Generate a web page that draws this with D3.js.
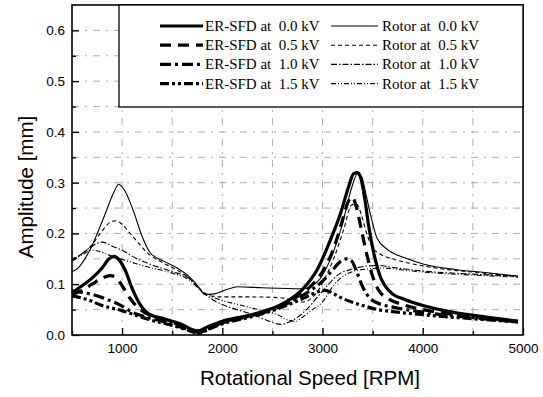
<!DOCTYPE html>
<html>
<head>
<meta charset="utf-8">
<script src="https://cdn.jsdelivr.net/npm/d3@7"></script>
<style>
  html, body { margin: 0; padding: 0; background: #fff; }
  svg { display: block; }
  .tick text { font: 13.5px "Liberation Sans", Arial, sans-serif; fill: #000; }
  .legendText { font: 15px "Liberation Serif", "Times New Roman", serif; fill: #000; white-space: pre; }
  .axisTitle { font: 20.5px "Liberation Sans", Arial, sans-serif; fill: #000; }
</style>
</head>
<body>
<script>
// Data: [rpm, amplitude mm]

const erSfd00 = [[500,0.083],[600,0.097],[700,0.112],[800,0.132],[870,0.15],[920,0.155],[970,0.148],[1030,0.128],[1100,0.092],[1180,0.06],[1280,0.04],[1420,0.032],[1580,0.022],[1750,0.008],[1850,0.016],[2000,0.027],[2250,0.038],[2480,0.051],[2650,0.067],[2800,0.09],[2950,0.13],[3080,0.188],[3180,0.24],[3260,0.292],[3310,0.318],[3350,0.32],[3380,0.31],[3420,0.27],[3460,0.215],[3510,0.162],[3570,0.118],[3680,0.084],[3820,0.07],[4020,0.057],[4320,0.044],[4650,0.035],[4950,0.027]];
const erSfd05 = [[500,0.08],[600,0.088],[700,0.1],[800,0.112],[880,0.117],[940,0.113],[1000,0.097],[1080,0.072],[1180,0.05],[1300,0.037],[1450,0.028],[1600,0.018],[1750,0.006],[1880,0.014],[2000,0.025],[2250,0.037],[2500,0.05],[2700,0.07],[2850,0.09],[3000,0.125],[3100,0.165],[3190,0.22],[3250,0.26],[3295,0.272],[3340,0.25],[3390,0.205],[3440,0.16],[3500,0.115],[3560,0.088],[3650,0.072],[3800,0.06],[4000,0.05],[4300,0.041],[4650,0.033],[4950,0.027]];
const erSfd10 = [[500,0.087],[600,0.084],[700,0.08],[850,0.07],[1000,0.057],[1100,0.045],[1250,0.035],[1400,0.027],[1550,0.018],[1650,0.011],[1760,0.004],[1850,0.012],[2000,0.024],[2250,0.036],[2500,0.05],[2700,0.067],[2850,0.084],[3000,0.106],[3100,0.128],[3180,0.145],[3240,0.15],[3290,0.146],[3340,0.125],[3400,0.095],[3470,0.073],[3550,0.063],[3700,0.055],[4000,0.045],[4500,0.034],[4950,0.026]];
const erSfd15 = [[500,0.077],[650,0.07],[800,0.058],[1000,0.048],[1150,0.038],[1350,0.026],[1500,0.019],[1650,0.01],[1760,0.003],[1850,0.01],[2000,0.022],[2250,0.034],[2500,0.048],[2700,0.063],[2850,0.076],[2950,0.085],[3030,0.088],[3100,0.082],[3200,0.072],[3320,0.063],[3420,0.057],[3550,0.05],[3700,0.046],[4000,0.04],[4500,0.032],[4950,0.026]];

const rotor00 = [[500,0.125],[550,0.13],[680,0.168],[820,0.233],[920,0.282],[965,0.297],[1030,0.283],[1120,0.24],[1200,0.194],[1280,0.162],[1420,0.145],[1550,0.132],[1680,0.113],[1770,0.093],[1820,0.08],[1920,0.081],[2050,0.09],[2150,0.095],[2400,0.093],[2800,0.091],[2950,0.105],[3080,0.15],[3200,0.22],[3290,0.29],[3350,0.318],[3390,0.312],[3430,0.28],[3475,0.24],[3545,0.19],[3650,0.168],[3820,0.152],[4020,0.139],[4320,0.129],[4620,0.123],[4950,0.116]];
const rotor05 = [[500,0.15],[600,0.16],[700,0.178],[800,0.205],[880,0.222],[940,0.225],[1000,0.218],[1080,0.2],[1160,0.182],[1250,0.162],[1400,0.143],[1550,0.128],[1680,0.11],[1780,0.09],[1870,0.078],[2000,0.075],[2300,0.075],[2600,0.073],[2800,0.065],[2940,0.083],[3020,0.11],[3110,0.15],[3210,0.207],[3290,0.256],[3340,0.258],[3390,0.235],[3440,0.2],[3500,0.172],[3570,0.16],[3700,0.15],[3900,0.14],[4200,0.13],[4600,0.122],[4950,0.115]];
const rotor10 = [[500,0.145],[600,0.16],[700,0.175],[800,0.183],[900,0.175],[1000,0.167],[1150,0.15],[1300,0.138],[1480,0.126],[1680,0.11],[1800,0.085],[1900,0.07],[2000,0.06],[2180,0.048],[2350,0.037],[2480,0.026],[2580,0.021],[2650,0.024],[2750,0.035],[2850,0.052],[2950,0.075],[3050,0.098],[3150,0.118],[3300,0.13],[3450,0.136],[3550,0.137],[3700,0.133],[4000,0.126],[4500,0.12],[4950,0.116]];
const rotor15 = [[500,0.148],[600,0.158],[700,0.167],[800,0.163],[900,0.155],[1000,0.149],[1150,0.14],[1300,0.132],[1480,0.123],[1680,0.107],[1800,0.085],[1900,0.075],[2000,0.068],[2200,0.058],[2400,0.048],[2550,0.04],[2650,0.03],[2730,0.027],[2800,0.035],[2900,0.05],[3000,0.065],[3100,0.095],[3200,0.115],[3300,0.125],[3450,0.13],[3600,0.132],[3800,0.128],[4000,0.124],[4500,0.118],[4950,0.114]];

const xTicks = [1000, 2000, 3000, 4000, 5000];
const xMinorTicks = [500, 1500, 2500, 3500, 4500];
const yTicks = [0, 0.1, 0.2, 0.3, 0.4, 0.5, 0.6];
const yMinorTicks = [0.05, 0.15, 0.25, 0.35, 0.45, 0.55];

const erLabels = ["ER-SFD at  0.0 kV", "ER-SFD at  0.5 kV", "ER-SFD at  1.0 kV", "ER-SFD at  1.5 kV"];
const rotorLabels = ["Rotor at  0.0 kV", "Rotor at  0.5 kV", "Rotor at  1.0 kV", "Rotor at  1.5 kV"];

// Layout

const svgWidth = 543;
const svgHeight = 397;
const plot = { left: 72, right: 523, top: 5, bottom: 335 };

const x = d3.scaleLinear().domain([500, 5000]).range([plot.left, plot.right]);
const y = d3.scaleLinear().domain([0, 0.65]).range([plot.bottom, plot.top]);

const erStyles = [
  { width: 3.2, dash: null },
  { width: 3.2, dash: "11,7" },
  { width: 3.2, dash: "11,4,3,4" },
  { width: 3.2, dash: "9,3,3,3,3,3" },
];
const rotorStyles = [
  { width: 1.1, dash: null },
  { width: 1.1, dash: "4,3" },
  { width: 1.1, dash: "6,2,1.5,2" },
  { width: 1.1, dash: "5,2,1,2,1,2" },
];

const svg = d3
  .select("body")
  .append("svg")
  .attr("width", svgWidth)
  .attr("height", svgHeight)
  .attr("viewBox", `0 0 ${svgWidth} ${svgHeight}`);

// Grid

const grid = svg.append("g").attr("stroke", "#8a8a8a").attr("stroke-width", 0.7).attr("stroke-dasharray", "7,6,2,6");

grid
  .selectAll()
  .data(xTicks.concat(xMinorTicks).filter((d) => d > 500 && d < 5000))
  .enter()
  .append("line")
  .attr("x1", (d) => x(d))
  .attr("x2", (d) => x(d))
  .attr("y1", y(0))
  .attr("y2", y(0.65));

grid
  .selectAll()
  .data(yTicks.concat(yMinorTicks).filter((d) => d > 0))
  .enter()
  .append("line")
  .attr("y1", (d) => y(d))
  .attr("y2", (d) => y(d))
  .attr("x1", x(500))
  .attr("x2", x(5000));

// Curves

const line = d3
  .line()
  .x((d) => x(d[0]))
  .y((d) => y(d[1]))
  .curve(d3.curveMonotoneX);

const erSeries = [erSfd00, erSfd05, erSfd10, erSfd15];
const rotorSeries = [rotor00, rotor05, rotor10, rotor15];

const drawSeries = (series, styles) =>
  svg
    .append("g")
    .selectAll()
    .data(series)
    .enter()
    .append("path")
    .attr("d", line)
    .attr("fill", "none")
    .attr("stroke", "#000")
    .attr("stroke-linejoin", "round")
    .attr("stroke-width", (_, i) => styles[i].width)
    .attr("stroke-dasharray", (_, i) => styles[i].dash);

drawSeries(rotorSeries, rotorStyles);
drawSeries(erSeries, erStyles);

// Axes

svg
  .append("g")
  .attr("transform", `translate(0, ${plot.bottom})`)
  .call(d3.axisBottom(x).tickValues(xTicks).tickSize(-7).tickPadding(8).tickFormat(d3.format("d")));
svg
  .append("g")
  .attr("transform", `translate(0, ${plot.bottom})`)
  .call(d3.axisBottom(x).tickValues(xMinorTicks).tickSize(-4).tickFormat(""));

svg
  .append("g")
  .attr("transform", `translate(${plot.left}, 0)`)
  .call(d3.axisLeft(y).tickValues(yTicks).tickSize(-7).tickPadding(7).tickFormat(d3.format(".1f")));
svg
  .append("g")
  .attr("transform", `translate(${plot.left}, 0)`)
  .call(d3.axisLeft(y).tickValues(yMinorTicks).tickSize(-4).tickFormat(""));

svg.selectAll(".domain").remove();
svg.selectAll(".tick line").attr("stroke", "#000").attr("stroke-width", 1.3);

// Frame

svg
  .append("rect")
  .attr("x", plot.left)
  .attr("y", plot.top)
  .attr("width", plot.right - plot.left)
  .attr("height", plot.bottom - plot.top)
  .attr("fill", "none")
  .attr("stroke", "#000")
  .attr("stroke-width", 1.6);

// Legend

const legend = svg.append("g");
legend
  .append("rect")
  .attr("x", 119)
  .attr("y", plot.top)
  .attr("width", plot.right - 119)
  .attr("height", 107 - plot.top)
  .attr("fill", "#fff")
  .attr("stroke", "#000")
  .attr("stroke-width", 1.3);

const rowY = (i) => 26 + i * 19.2;

const legendRows = legend.selectAll().data(erLabels).enter().append("g");

legendRows
  .append("line")
  .attr("x1", 160)
  .attr("x2", 203)
  .attr("y1", (_, i) => rowY(i))
  .attr("y2", (_, i) => rowY(i))
  .attr("stroke", "#000")
  .attr("stroke-width", (_, i) => erStyles[i].width)
  .attr("stroke-dasharray", (_, i) => erStyles[i].dash);

legendRows
  .append("text")
  .attr("class", "legendText")
  .attr("x", 205)
  .attr("y", (_, i) => rowY(i) + 5)
  .text((d) => d);

legendRows
  .append("line")
  .attr("x1", 331)
  .attr("x2", 378)
  .attr("y1", (_, i) => rowY(i))
  .attr("y2", (_, i) => rowY(i))
  .attr("stroke", "#000")
  .attr("stroke-width", (_, i) => rotorStyles[i].width)
  .attr("stroke-dasharray", (_, i) => rotorStyles[i].dash);

legendRows
  .append("text")
  .attr("class", "legendText")
  .attr("x", 382)
  .attr("y", (_, i) => rowY(i) + 5)
  .text((_, i) => rotorLabels[i]);

// Axis titles

svg
  .append("text")
  .attr("class", "axisTitle")
  .attr("text-anchor", "middle")
  .attr("x", 310)
  .attr("y", 385)
  .text("Rotational Speed [RPM]");

svg
  .append("text")
  .attr("class", "axisTitle")
  .attr("text-anchor", "middle")
  .attr("transform", "translate(33, 187) rotate(-90)")
  .text("Amplitude [mm]");
</script>
</body>
</html>
